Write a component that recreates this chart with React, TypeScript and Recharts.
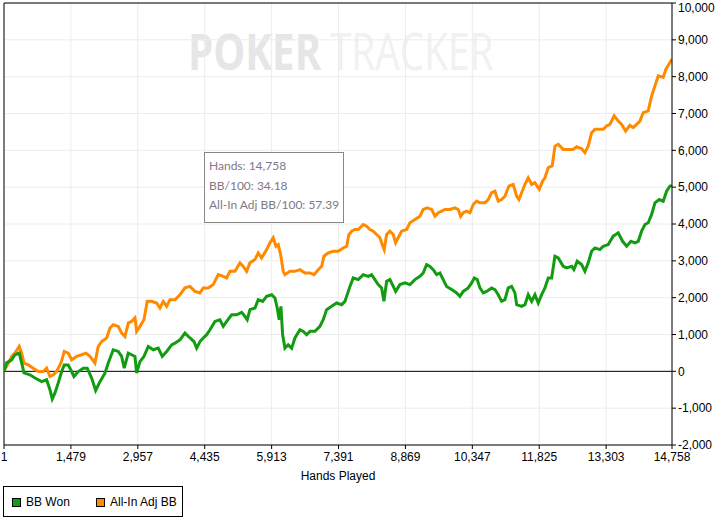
import { LineChart, Line, XAxis, YAxis, CartesianGrid, ReferenceLine } from 'recharts'

const bbWonHands = [1, 60, 170, 243, 338, 391, 442, 574, 685, 758, 833, 943, 1016, 1067, 1127, 1199, 1275, 1332, 1420, 1495, 1546, 1641, 1752, 1840, 1937, 2026, 2121, 2231, 2304, 2414, 2525, 2600, 2657, 2746, 2821, 2894, 2931, 3004, 3093, 3188, 3298, 3409, 3497, 3594, 3705, 3777, 3888, 3998, 4109, 4197, 4257, 4330, 4403, 4478, 4551, 4661, 4771, 4844, 4920, 5030, 5140, 5251, 5324, 5374, 5434, 5545, 5617, 5715, 5803, 5914, 5986, 6037, 6081, 6119, 6156, 6207, 6280, 6355, 6428, 6539, 6612, 6687, 6760, 6870, 6980, 7053, 7128, 7239, 7349, 7460, 7533, 7570, 7643, 7716, 7827, 7937, 8047, 8122, 8195, 8268, 8343, 8394, 8454, 8527, 8600, 8653, 8748, 8858, 8969, 9079, 9189, 9262, 9337, 9410, 9483, 9558, 9631, 9704, 9779, 9890, 10000, 10073, 10146, 10256, 10331, 10389, 10455, 10515, 10588, 10663, 10773, 10846, 10919, 10994, 11067, 11140, 11215, 11288, 11326, 11436, 11509, 11582, 11657, 11730, 11803, 11878, 11951, 12024, 12099, 12172, 12245, 12355, 12430, 12541, 12591, 12664, 12761, 12834, 12907, 12982, 13055, 13166, 13239, 13349, 13460, 13570, 13667, 13756, 13851, 13939, 14012, 14087, 14160, 14233, 14308, 14381, 14476, 14564, 14639, 14712, 14758]

const bbWonValues = [0, 230, 310, 450, 495, 230, -40, -95, -180, -230, -280, -230, -500, -750, -585, -315, -5, 175, 175, -5, -140, -5, 85, 85, -185, -520, -280, -50, 225, 585, 540, 405, 85, 495, 450, 405, -50, 265, 405, 675, 585, 630, 405, 540, 720, 765, 855, 1040, 905, 810, 630, 810, 905, 995, 1130, 1355, 1400, 1220, 1355, 1535, 1535, 1600, 1490, 1400, 1675, 1720, 1945, 1900, 2035, 2080, 1990, 1720, 1400, 1765, 995, 630, 720, 630, 905, 1130, 1085, 995, 1085, 1085, 1220, 1400, 1675, 1765, 1855, 1810, 1900, 2035, 2305, 2535, 2490, 2625, 2580, 2625, 2490, 2355, 2265, 1900, 2445, 2490, 2305, 2170, 2355, 2400, 2355, 2490, 2580, 2670, 2900, 2850, 2760, 2625, 2670, 2490, 2305, 2220, 2130, 2035, 2170, 2265, 2400, 2535, 2490, 2265, 2130, 2170, 2265, 2220, 2080, 1900, 1945, 2265, 2305, 2130, 1810, 1765, 1810, 2080, 1900, 2080, 1855, 2080, 2265, 2535, 2535, 3125, 3080, 2850, 2810, 2850, 2760, 2990, 2900, 2715, 2945, 3260, 3350, 3305, 3395, 3440, 3670, 3760, 3530, 3395, 3530, 3490, 3530, 3805, 3985, 4035, 4260, 4575, 4665, 4620, 4890, 5030, 5040]

const allInHands = [1, 60, 170, 243, 338, 391, 442, 537, 647, 758, 868, 943, 1016, 1089, 1164, 1259, 1332, 1420, 1495, 1606, 1716, 1811, 1900, 2010, 2083, 2158, 2269, 2342, 2414, 2525, 2600, 2673, 2746, 2821, 2894, 2931, 3004, 3093, 3166, 3263, 3373, 3446, 3519, 3594, 3667, 3777, 3888, 3998, 4109, 4219, 4330, 4403, 4513, 4623, 4734, 4844, 4920, 4992, 5103, 5213, 5286, 5361, 5434, 5545, 5617, 5692, 5803, 5876, 5949, 6008, 6059, 6112, 6170, 6207, 6318, 6428, 6539, 6649, 6760, 6848, 6943, 7018, 7069, 7164, 7274, 7384, 7495, 7570, 7621, 7681, 7754, 7827, 7937, 8012, 8085, 8158, 8233, 8306, 8357, 8401, 8454, 8527, 8600, 8653, 8710, 8785, 8896, 8969, 9079, 9189, 9262, 9351, 9448, 9521, 9594, 9669, 9742, 9852, 9963, 10036, 10089, 10146, 10221, 10294, 10367, 10442, 10515, 10625, 10698, 10773, 10846, 10919, 10994, 11067, 11155, 11250, 11326, 11376, 11436, 11509, 11582, 11657, 11730, 11825, 11900, 11951, 12024, 12112, 12172, 12245, 12355, 12466, 12576, 12651, 12761, 12834, 12907, 12982, 13055, 13166, 13239, 13313, 13386, 13481, 13570, 13645, 13733, 13828, 13901, 13976, 14049, 14122, 14233, 14308, 14381, 14454, 14564, 14624, 14712, 14758]

const allInValues = [40, 130, 405, 495, 675, 495, 225, 175, 85, -5, -5, 85, -140, -95, -5, 225, 540, 495, 315, 405, 450, 495, 405, 225, 675, 810, 905, 1175, 1265, 1220, 1040, 945, 1310, 1355, 1450, 1085, 1220, 1400, 1900, 1900, 1855, 1720, 1900, 1765, 1945, 1945, 2080, 2265, 2305, 2170, 2130, 2265, 2265, 2355, 2625, 2580, 2535, 2715, 2715, 2945, 2850, 2715, 2945, 3035, 3215, 3080, 3305, 3490, 3625, 3395, 3440, 3170, 2715, 2625, 2715, 2715, 2760, 2670, 2670, 2625, 2760, 2850, 3125, 3215, 3260, 3260, 3350, 3395, 3715, 3805, 3850, 3850, 3985, 3940, 3850, 3805, 3715, 3625, 3440, 3305, 3715, 3805, 3715, 3490, 3625, 3805, 3850, 4035, 4120, 4210, 4395, 4440, 4395, 4210, 4305, 4350, 4395, 4395, 4440, 4395, 4210, 4305, 4350, 4305, 4530, 4620, 4575, 4575, 4665, 4850, 4890, 4620, 4665, 4755, 5030, 5075, 4755, 4665, 4850, 5075, 5255, 5075, 5120, 4940, 5165, 5255, 5530, 5575, 6115, 6165, 6025, 6025, 6025, 6100, 6045, 5935, 6115, 6480, 6570, 6570, 6570, 6660, 6705, 6935, 6795, 6705, 6525, 6680, 6620, 6705, 6795, 7025, 7070, 7475, 7750, 8020, 7980, 8205, 8385, 8475]

const xTicks = [1, 1479, 2957, 4435, 5913, 7391, 8869, 10347, 11825, 13303, 14758]
const yTicks = [-2000, -1000, 0, 1000, 2000, 3000, 4000, 5000, 6000, 7000, 8000, 9000, 10000]

const seriesNames = ['BB Won', 'All-In Adj BB']
const seriesColors = ['#129c12', '#ff8a00']
const summaryLines = ['Hands: 14,758', 'BB/100: 34.18', 'All-In Adj BB/100: 57.39']

const bbWonData = bbWonHands.map((h, i) => ({ hands: h, value: bbWonValues[i] }))
const allInData = allInHands.map((h, i) => ({ hands: h, value: allInValues[i] }))

const fmt = (v: number) => v.toLocaleString('en-US')
const axisFont = '"Liberation Sans", Arial, sans-serif'

export default function App() {
  return (
    <div style={{ position: 'absolute', left: 0, top: 0, width: 722, height: 525, background: '#fff' }}>
      {/* watermark sits behind the plot, squeezed horizontally */}
      <svg width={722} height={525} style={{ position: 'absolute', left: 0, top: 0 }}>
        <g transform="translate(188 70) scale(0.79 1)">
          <text x={0} y={0} fontSize={51} fontFamily='"Open Sans", sans-serif' fontWeight={700} fill="#e6e6e6">POKER</text>
        </g>
        <g transform="translate(330 70) scale(0.76 1)">
          <text x={0} y={0} fontSize={51} fontFamily='"Open Sans", sans-serif' fontWeight={400} fill="#f1f1f1">TRACKER</text>
        </g>
      </svg>

      <LineChart
        width={722}
        height={525}
        margin={{ top: 3, right: 0, bottom: 0, left: 4 }}
        style={{ position: 'absolute', left: 0, top: 0, fontFamily: axisFont }}
      >
        <CartesianGrid stroke="#ececec" strokeWidth={1} />
        <XAxis
          type="number"
          dataKey="hands"
          domain={[1, 14758]}
          ticks={xTicks}
          tickFormatter={fmt}
          height={80}
          tickSize={4}
          tickMargin={3}
          stroke="#000"
          tick={{ fill: '#000', fontSize: 12 }}
          allowDataOverflow
          label={{ value: 'Hands Played', position: 'insideTop', offset: 26, fill: '#000', fontSize: 12 }}
        />
        <YAxis
          orientation="right"
          type="number"
          domain={[-2000, 10000]}
          ticks={yTicks}
          tickFormatter={fmt}
          width={50}
          tickSize={4}
          tickMargin={2}
          stroke="#000"
          tick={{ fill: '#000', fontSize: 12 }}
          allowDataOverflow
        />
        <ReferenceLine y={0} stroke="#000" strokeWidth={1} />
        <ReferenceLine y={10000} stroke="#000" strokeWidth={1} />
        <ReferenceLine x={1} stroke="#000" strokeWidth={1} />
        <Line
          data={allInData}
          dataKey="value"
          name={seriesNames[1]}
          type="linear"
          stroke={seriesColors[1]}
          strokeWidth={3}
          dot={false}
          isAnimationActive={false}
        />
        <Line
          data={bbWonData}
          dataKey="value"
          name={seriesNames[0]}
          type="linear"
          stroke={seriesColors[0]}
          strokeWidth={3}
          dot={false}
          isAnimationActive={false}
        />
      </LineChart>

      {/* summary box */}
      <div style={{
        position: 'absolute', left: 204, top: 152, width: 134, height: 66,
        border: '1px solid #888', background: '#fff', color: '#7e7889',
        fontFamily: 'Lato, sans-serif', fontSize: 12, lineHeight: '19.5px',
        padding: '3px 0 0 4px', boxSizing: 'content-box',
      }}>
        {summaryLines.map(s => <div key={s} style={{ whiteSpace: 'nowrap' }}>{s}</div>)}
      </div>

      {/* legend */}
      <div style={{
        position: 'absolute', left: 3, top: 486, width: 178, height: 29,
        border: '1px solid #000', fontFamily: axisFont, fontSize: 12, color: '#000',
      }}>
        {seriesNames.map((name, i) => (
          <div key={name} style={{ position: 'absolute', left: i === 0 ? 8 : 92, top: 9, display: 'flex', alignItems: 'center' }}>
            <span style={{
              display: 'inline-block', width: 7, height: 7, background: seriesColors[i],
              border: '1px solid #000', marginRight: 5,
            }} />
            <span style={{ lineHeight: '12px' }}>{name}</span>
          </div>
        ))}
      </div>
    </div>
  )
}
